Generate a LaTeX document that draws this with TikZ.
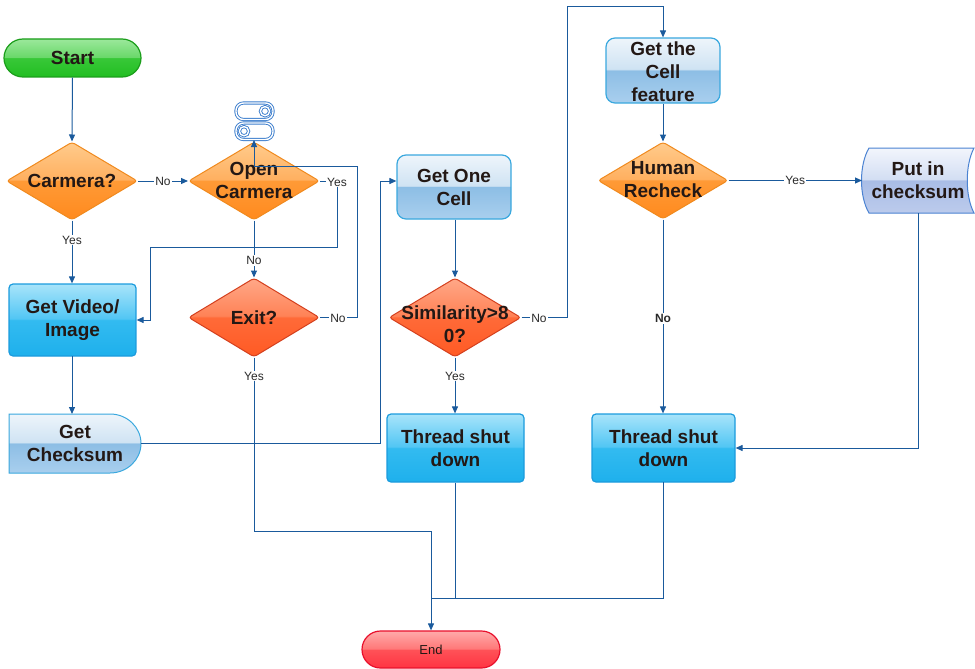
\documentclass[tikz,border=0pt]{standalone}
\usepackage{fontspec}
\setmainfont{Liberation Sans}
\usetikzlibrary{shapes.geometric,arrows.meta}

\definecolor{lineblue}{HTML}{1A5A9C}
\definecolor{txtdark}{HTML}{231815}
\definecolor{labtxt}{HTML}{2A2A2A}
% green
\definecolor{gT}{HTML}{9BE89B}\definecolor{gU}{HTML}{6AD86A}\definecolor{gL}{HTML}{38C838}\definecolor{gB}{HTML}{22BE22}\definecolor{gD}{HTML}{1B9E1B}
% orange
\definecolor{oT}{HTML}{FFCB8C}\definecolor{oU}{HTML}{FFB060}\definecolor{oL}{HTML}{FF9A36}\definecolor{oB}{HTML}{FF8A1E}\definecolor{oD}{HTML}{F08A1E}
% red-orange
\definecolor{rT}{HTML}{FFA888}\definecolor{rU}{HTML}{FF8256}\definecolor{rL}{HTML}{FF6A38}\definecolor{rB}{HTML}{FF5A24}\definecolor{rD}{HTML}{D4401E}
% bright blue
\definecolor{bT}{HTML}{A8E4FA}\definecolor{bU}{HTML}{52C6F4}\definecolor{bL}{HTML}{33BBF0}\definecolor{bB}{HTML}{1EB0EC}\definecolor{bD}{HTML}{1B9BDD}
% light blue
\definecolor{lT}{HTML}{EEF5FB}\definecolor{lU}{HTML}{CFE3F3}\definecolor{lL}{HTML}{8DBEE5}\definecolor{lB}{HTML}{A9CFEE}\definecolor{lD}{HTML}{3AA8DE}
% lavender
\definecolor{pT}{HTML}{F2F5FC}\definecolor{pU}{HTML}{D3DEF3}\definecolor{pL}{HTML}{A9BDE6}\definecolor{pB}{HTML}{BCCBEC}\definecolor{pD}{HTML}{4A82D2}
% red
\definecolor{eT}{HTML}{FFAAAA}\definecolor{eU}{HTML}{FF7878}\definecolor{eL}{HTML}{FF5258}\definecolor{eB}{HTML}{FF3442}\definecolor{eD}{HTML}{E8102C}
\definecolor{iconblue}{HTML}{3A7CCC}

\newcommand\glossshade[5]{\pgfdeclareverticalshading{#1}{100bp}{color(0bp)=(#5); color(25bp)=(#5); color(50bp)=(#4); color(51bp)=(#3); color(75bp)=(#2); color(100bp)=(#2)}}
\glossshade{shGreen}{gT}{gU}{gL}{gB}
\glossshade{shOrange}{oT}{oU}{oL}{oB}
\glossshade{shRed}{rT}{rU}{rL}{rB}
\glossshade{shBlue}{bT}{bU}{bL}{bB}
\glossshade{shLight}{lT}{lU}{lL}{lB}
\glossshade{shLav}{pT}{pU}{pL}{pB}
\glossshade{shEnd}{eT}{eU}{eL}{eB}

\tikzset{
  boxtxt/.style={font=\bfseries\fontsize{19}{23}\selectfont, text=txtdark, align=center},
  dia/.style={diamond, inner sep=0pt, line width=1pt, rounded corners=3pt},
  procbox/.style={rectangle, line width=1.2pt, boxtxt},
  flow/.style={draw=lineblue, line width=1pt, -{Triangle[length=7pt,width=6pt]}},
  plainline/.style={draw=lineblue, line width=1pt},
  lab/.style={fill=white, inner sep=1pt, font=\fontsize{12}{14}\selectfont, text=labtxt},
  iconline/.style={draw=iconblue, double=white, double distance=1.4pt, line width=0.9pt}
}

\begin{document}
\begin{tikzpicture}[x=1pt,y=-1pt]
\useasboundingbox (0,0) rectangle (975,669);

% ---------- nodes ----------
\node[procbox, shading=shGreen, draw=gD, rounded corners=19pt, minimum width=137pt, minimum height=38pt] (start) at (72.5,58) {Start};

\node[dia, shading=shOrange, draw=oD, minimum width=131pt, minimum height=78pt] (cam) at (72,181) {};
\node[boxtxt] (camt) at (cam) {Carmera?};

\node[dia, shading=shOrange, draw=oD, minimum width=131pt, minimum height=78pt] (open) at (254,181) {};
\node[boxtxt] (opent) at (254,180) {Open\\Carmera};

\node[dia, shading=shRed, draw=rD, minimum width=131pt, minimum height=79pt] (exit) at (254,317.5) {};
\node[boxtxt] (exitt) at (exit) {Exit?};

\node[procbox, shading=shBlue, draw=bD, rounded corners=4pt, minimum width=127pt, minimum height=72pt] (vid) at (72.5,320) {Get Video/\\Image};

% Get Checksum (delay shape)
\shade[shading=shLight, draw=lD, line width=1pt] (9,414) -- (110,414) arc[start angle=90, end angle=-90, x radius=31pt, y radius=29.5pt] -- (9,473) -- cycle;
\node[boxtxt, minimum width=132pt, minimum height=59pt, inner sep=0pt] (chk) at (75,443.5) {Get\\Checksum};

\node[procbox, shading=shLight, draw=lD, rounded corners=9pt, minimum width=114pt, minimum height=64pt] (cell) at (454,187) {Get One\\Cell};

\node[dia, shading=shRed, draw=rD, minimum width=132pt, minimum height=79pt] (sim) at (455,317.5) {};
\node[boxtxt] (simt) at (455,324) {Similarity>8\\0?};

\node[procbox, shading=shBlue, draw=bD, rounded corners=4pt, minimum width=137pt, minimum height=68pt] (thr1) at (455.5,448) {Thread shut\\down};

\node[procbox, shading=shLight, draw=lD, rounded corners=9pt, minimum width=114pt, minimum height=65pt] (feat) at (663,70.5) {};
\node[boxtxt] (featt) at (663,72) {Get the\\Cell\\feature};

\node[dia, shading=shOrange, draw=oD, minimum width=130pt, minimum height=77pt] (hum) at (663,180.5) {};
\node[boxtxt] (humt) at (663,180) {Human\\Recheck};

% Put in checksum
\shade[shading=shLav, draw=pD, line width=1pt] (869,148) -- (974,148) .. controls (965,165) and (965,196) .. (974,213) -- (869,213) .. controls (859,196) and (859,165) .. (869,148) -- cycle;
\node[boxtxt, minimum width=112pt, minimum height=65pt, inner sep=0pt] (put) at (918,180.5) {Put in\\checksum};

\node[procbox, shading=shBlue, draw=bD, rounded corners=4pt, minimum width=143pt, minimum height=68pt] (thr2) at (663.5,448) {Thread shut\\down};

\node[rectangle, shading=shEnd, draw=eD, line width=1.2pt, rounded corners=18.5pt, minimum width=138pt, minimum height=37pt, font=\fontsize{13}{15}\selectfont, text=txtdark] (endn) at (431,649.5) {End};

% toggle icon on "Open Carmera"
\draw[iconline, rounded corners=7.5pt] (236,103) rectangle (273,119.5);
\draw[iconline] (265,111.2) circle (4.6pt);
\draw[iconline, rounded corners=7.5pt] (236,123) rectangle (273,139.5);
\draw[iconline] (244,131.2) circle (4.6pt);
\coordinate (tog) at (254,140);

% ---------- connectors ----------
\draw[flow] (start.south) -- (cam.north);
\draw[flow] (cam.east) -- node[lab]{No} (open.west);
\draw[flow] (cam.south) -- node[lab, pos=0.31]{Yes} (cam.south |- vid.north);

\draw[flow] (open.east) -- (337,181) |- (150,247) |- (vid.east);
\node[lab] (lyes1) at (337,182) {Yes};

\draw[flow] (open.south) -- node[lab, pos=0.7]{No} (exit.north);

\draw[flow] (exit.east) -- (357,317.5) |- (254,166) -- (tog);
\node[lab] (lno2) at (338,318) {No};

\draw[flow] (exit.south) -- (254,531) -| (endn.north);
\node[lab] (lyes2) at (254,376) {Yes};

\draw[flow] (72,356) -- (72,414);

\draw[flow] (chk.east) -- (380,443.5) |- ([yshift=6pt]cell.west);

\draw[flow] (cell.south -| sim.north) -- (sim.north);

\draw[flow] (sim.east) -- (567,317.5) |- (663,7) -- (feat.north);
\node[lab] (lno3) at (539,318) {No};

\draw[flow] (sim.south) -- node[lab, pos=0.33]{Yes} (sim.south |- thr1.north);

\draw[plainline] (sim.south |- thr1.south) -- (455,598);

\draw[flow] (feat.south) -- (hum.north);

\draw[flow] (hum.east) -- node[lab]{Yes} (862,180.5);

\draw[flow] (hum.south) -- node[lab, pos=0.51, font=\bfseries\fontsize{12}{14}\selectfont]{No} (hum.south |- thr2.north);

\draw[flow] (918,213) -- (918,448) -- (thr2.east);

\draw[plainline] (663,482) -- (663,598) -- (431,598);

\end{tikzpicture}
\end{document}
